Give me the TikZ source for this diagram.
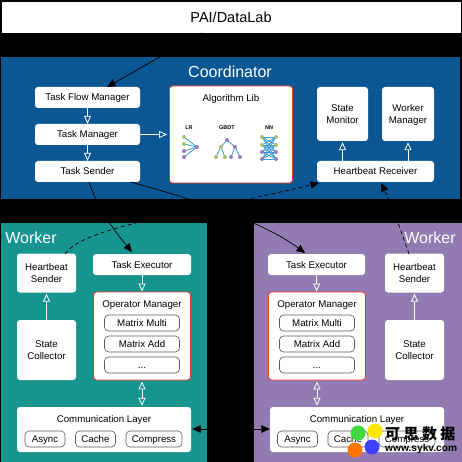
\documentclass[tikz,border=0pt]{standalone}
\usepackage{fontspec}
\setmainfont{Liberation Sans}
\newfontfamily\cjkfont{Noto Sans CJK SC}
\usetikzlibrary{arrows.meta}
\definecolor{coordblue}{HTML}{0B5794}
\definecolor{workerteal}{HTML}{17948F}
\definecolor{workerpurple}{HTML}{927BB0}
\definecolor{libred}{HTML}{F0352B}
\definecolor{iconblue}{HTML}{3E9AD0}
\definecolor{icongreen}{HTML}{A9C26E}
\definecolor{iconpurple}{HTML}{9A7DB8}

\begin{document}
\begin{tikzpicture}[x=1pt, y=-1pt, font=\fontsize{9.7}{12.6}\selectfont,
	panel/.style={shape=rectangle, anchor=north west, inner sep=0pt},
	whitebox/.style={shape=rectangle, fill=white, rounded corners=3pt, align=center, inner sep=0pt},
	linebox/.style={whitebox, text height=7pt, text depth=0pt},
	twolines/.style={whitebox, text depth=-3pt},
	redbox/.style={whitebox, draw=libred, line width=0.9pt},
	pill/.style={shape=rectangle, fill=white, draw=black!65, line width=0.6pt, rounded corners=4pt, inner sep=0pt, minimum height=16pt, text height=7pt, text depth=0pt},
	title/.style={text=white, font=\fontsize{16}{18}\selectfont},
	hollow/.style={draw=white, line width=0.8pt, -{Triangle[open, length=8pt, width=7pt]}},
	hollowboth/.style={draw=white, line width=0.8pt, {Triangle[open, length=8pt, width=7pt]}-{Triangle[open, length=8pt, width=7pt]}},
	call/.style={draw=black, line width=0.7pt, -{Triangle[length=8.5pt, width=7.5pt]}},
	beat/.style={call, dash pattern=on 4pt off 3pt},
	dot/.style={shape=circle, inner sep=0pt, minimum size=4pt}]
	% Background and panels:
	\fill[black] (0, 0) rectangle (462, 462);
	\useasboundingbox (0, 0) rectangle (462, 462);
	\node[panel, fill=white, minimum width=459pt, minimum height=31pt] (pai) at (2, 2){};
	\node[font=\fontsize{14.5}{16}\selectfont] (pailabel) at (231, 17){PAI/DataLab};
	\node[panel, fill=coordblue, minimum width=459pt, minimum height=142pt] (coord) at (1, 57){};
	\node[panel, fill=workerteal, minimum width=206pt, minimum height=239pt] (workerl) at (1, 223){};
	\node[panel, fill=workerpurple, minimum width=208pt, minimum height=239pt] (workerr) at (254, 223){};
	\node[title] (coordlabel) at (230, 71.7){Coordinator};
	\node[title] (workerllabel) at (31, 237.7){Worker};
	\node[title] (workerrlabel) at (430, 237.7){Worker};

	% Coordinator boxes:
	\node[linebox, minimum width=105pt, minimum height=21pt] (flow) at (87.5, 97.5){Task Flow Manager};
	\node[linebox, minimum width=105pt, minimum height=21pt] (manager) at (87.5, 134.5){Task Manager};
	\node[linebox, minimum width=105pt, minimum height=21pt] (sender) at (87.5, 171.5){Task Sender};
	\node[redbox, minimum width=123pt, minimum height=97pt] (lib) at (231, 134.5){};
	\node (liblabel) at (231, 99){Algorithm Lib};
	\node[twolines, minimum width=51pt, minimum height=54pt] (monitor) at (342.5, 114){State\\Monitor};
	\node[twolines, minimum width=52pt, minimum height=54pt] (workermgr) at (408, 114){Worker\\Manager};
	\node[linebox, minimum width=117pt, minimum height=21pt] (receiver) at (375.5, 171.5){Heartbeat Receiver};

	% Algorithm icons:
	\node[font=\bfseries\fontsize{5.5}{6}\selectfont] (lr) at (189, 128){LR};
	\node[font=\bfseries\fontsize{5.5}{6}\selectfont] (gbdt) at (227, 128){GBDT};
	\node[font=\bfseries\fontsize{5.5}{6}\selectfont] (nn) at (269, 128){NN};
	\foreach \y in {137, 144, 151, 157}
		\draw[iconblue, line width=0.8pt] (184, \y) -- (197, 147);
	\draw[iconblue, line width=0.8pt] (216, 157) -- (221, 147) -- (227, 140) -- (235, 147) -- (240, 157) (221, 147) -- (225, 157) (235, 147) -- (231, 157);
	\foreach \y in {137, 145, 152, 159}
		\foreach \z in {137, 145, 152, 159}
			\draw[iconblue, line width=0.8pt] (262, \y) -- (276, \z);
	\foreach \x/\y in {184/137, 184/144, 216/157, 225/157, 221/147, 262/137, 262/145, 276/137, 276/145}
		\node[dot, fill=icongreen] at (\x, \y){};
	\foreach \x/\y in {184/151, 184/157, 197/147, 227/140, 235/147, 231/157, 240/157, 262/152, 262/159, 276/152, 276/159}
		\node[dot, fill=iconpurple] at (\x, \y){};

	% Left worker:
	\node[twolines, minimum width=59pt, minimum height=39pt] (beatl) at (46.5, 273){Heartbeat\\Sender};
	\node[twolines, minimum width=59pt, minimum height=60pt] (statel) at (46.5, 350){State\\Collector};
	\node[linebox, minimum width=98pt, minimum height=21pt] (execl) at (142, 264.5){Task Executor};
	\node[redbox, minimum width=97pt, minimum height=88pt] (opl) at (142, 336){};
	\node (oplabell) at (142, 305.5){Operator Manager};
	\node[pill, minimum width=75pt] (multil) at (142, 323){Matrix Multi};
	\node[pill, minimum width=75pt] (addl) at (142, 344){Matrix Add};
	\node[pill, minimum width=75pt] (dotsl) at (142, 365){...};
	\node[whitebox, minimum width=174pt, minimum height=45pt] (comml) at (104, 429.5){};
	\node (commlabell) at (104, 419.5){Communication Layer};
	\node[pill, minimum width=40pt] (asyncl) at (45, 439){Async};
	\node[pill, minimum width=40pt] (cachel) at (95.5, 439){Cache};
	\node[pill, minimum width=56pt] (compl) at (154, 439){Compress};

	% Right worker:
	\node[twolines, minimum width=59pt, minimum height=39pt] (beatr) at (414.5, 273){Heartbeat\\Sender};
	\node[twolines, minimum width=59pt, minimum height=60pt] (stater) at (414.5, 350){State\\Collector};
	\node[linebox, minimum width=97pt, minimum height=21pt] (execr) at (316.5, 264.5){Task Executor};
	\node[redbox, minimum width=97pt, minimum height=88pt] (opr) at (317, 336){};
	\node (oplabelr) at (317, 305.5){Operator Manager};
	\node[pill, minimum width=75pt] (multir) at (317, 323){Matrix Multi};
	\node[pill, minimum width=75pt] (addr) at (317, 344){Matrix Add};
	\node[pill, minimum width=75pt] (dotsr) at (317, 365){...};
	\node[whitebox, minimum width=174pt, minimum height=45pt] (commr) at (357, 429.5){};
	\node (commlabelr) at (357, 419.5){Communication Layer};
	\node[pill, minimum width=40pt] (asyncr) at (297.5, 439){Async};
	\node[pill, minimum width=40pt] (cacher) at (348, 439){Cache};
	\node[pill, minimum width=56pt] (compr) at (407, 439){Compress};

	% Paths between boxes:
	\draw[hollow] (flow) -- (manager);
	\draw[hollow] (manager) -- (sender);
	\draw[hollow, shorten >=2pt] (manager) -- (lib);
	\draw[hollow, shorten >=1pt] (receiver.north -| monitor) -- (monitor);
	\draw[hollow, shorten >=1pt] (receiver.north -| workermgr) -- (workermgr);
	\draw[hollow] (execl) -- (opl);
	\draw[hollow] (execr) -- (opr);
	\draw[hollow, shorten >=1pt] (statel) -- (beatl);
	\draw[hollow, shorten >=1pt] (stater) -- (beatr);
	\draw[hollowboth, shorten >=1pt, shorten <=1pt] (opl.south) -- (opl.south |- comml.north);
	\draw[hollowboth, shorten >=1pt, shorten <=1pt] (opr.south) -- (opr.south |- commr.north);

	% Calls across the panels:
	\coordinate (paiout) at (202, 33);
	\coordinate (flowin) at (107, 87);
	\coordinate (senderl) at (89, 182);
	\coordinate (senderr) at (131, 182);
	\coordinate (execlin) at (132, 252);
	\coordinate (execrin) at (305, 253);
	\coordinate (beatlout) at (65, 254);
	\coordinate (beatrout) at (409, 254);
	\coordinate (receiverl) at (319, 183);
	\coordinate (receiverr) at (381, 183);
	\draw[call] (paiout) -- (flowin);
	\draw[call] (senderl) .. controls (98, 208) and (112, 228) .. (execlin);
	\draw[call] (senderr) .. controls (180, 196) and (258, 218) .. (execrin);
	\draw[beat] (beatlout) .. controls (85, 225) and (200, 212) .. (receiverl);
	\draw[beat] (beatrout) .. controls (400, 228) and (392, 205) .. (receiverr);
	\draw[draw=black, line width=0.7pt, {Triangle[length=8.5pt, width=7.5pt]}-{Triangle[length=8.5pt, width=7.5pt]}] (comml.east |- 0, 429) ++(1, 0) -- (commr.west |- 0, 429);

	% Corner mark:
	\node[shape=circle, fill=green!80!black!75, inner sep=0pt, minimum size=15pt] (markg) at (358, 433){};
	\node[shape=circle, fill=blue!75, inner sep=0pt, minimum size=15pt] (markb) at (372, 447){};
	\node[shape=circle, fill=orange!90!red, inner sep=0pt, minimum size=15pt] (marko) at (355, 450){};
	\node[shape=circle, fill=yellow!90!orange, inner sep=0pt, minimum size=15pt] (marky) at (375, 431){};
	\node[font=\cjkfont\bfseries\fontsize{15}{16}\selectfont, anchor=west, inner sep=0pt] (markcn) at (385, 434){可 思 数 据};
	\node[font=\bfseries\fontsize{10.2}{11}\selectfont, anchor=west, inner sep=0pt] (markurl) at (385, 449){www.sykv.com};
\end{tikzpicture}
\end{document}
